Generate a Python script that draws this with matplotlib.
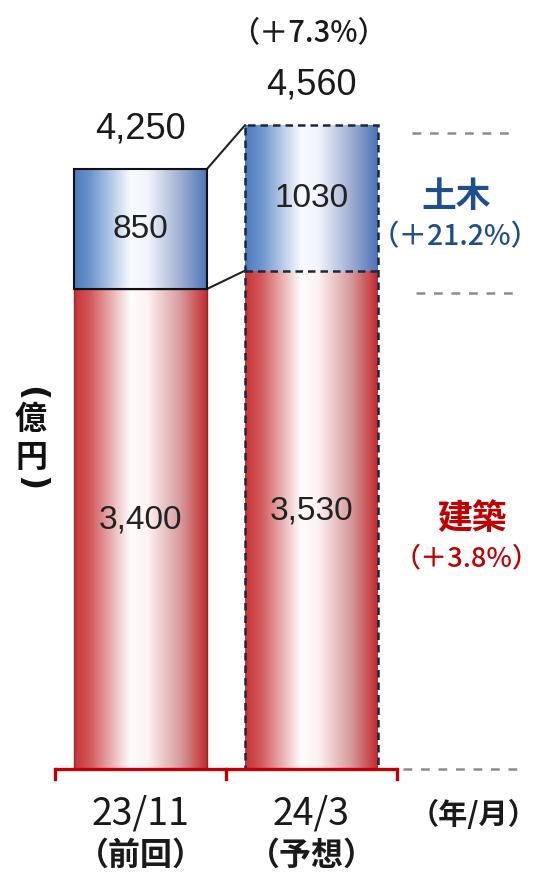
import numpy as np
import matplotlib
matplotlib.use("Agg")
import matplotlib.pyplot as plt
from matplotlib.colors import LinearSegmentedColormap
from matplotlib.patches import Rectangle

# ---------------- data ----------------
categories = ["23/11", "24/3"]
sub_labels = ["（前回）", "（予想）"]
kenchiku = [3400, 3530]          # 建築 (red, bottom)
doboku = [850, 1030]             # 土木 (blue, top)
total_labels = ["4,250", "4,560"]
seg_red_labels = ["3,400", "3,530"]
seg_blue_labels = ["850", "1030"]
total_change = "（＋7.3%）"
doboku_change = "（＋21.2%）"
kenchiku_change = "（＋3.8%）"
guide_levels = [4505, 3370, 0]   # right-hand dashed guide lines

CJK = ["Noto Sans CJK JP", "DejaVu Sans"]
NUM = ["Liberation Sans", "DejaVu Sans"]

W, H = 539, 879
fig = plt.figure(figsize=(W / 100, H / 100), dpi=100)
ax = fig.add_axes([0, 0, 1, 1])
ax.set_axis_off()

# axis limits chosen so that bar centres are 171 px apart, baseline at 770 px
XL0, XL1 = -140.5 / 171, (W - 140.5) / 171
UPP = 7.083  # data units per pixel
YL0 = -(H - 770) * UPP
YL1 = 770 * UPP
ax.set_xlim(XL0, XL1)
ax.set_ylim(YL0, YL1)


def dx(px):
    return XL0 + px / W * (XL1 - XL0)


def dy(py):
    return YL1 - py / H * (YL1 - YL0)


bw = 133 / 171
x = np.arange(len(categories))

red_cmap = LinearSegmentedColormap.from_list(
    "r", [(0, (0.78, 0.20, 0.21)), (0.12, (0.82, 0.35, 0.36)), (0.42, (1, 0.99, 0.99)),
          (0.55, (0.99, 0.95, 0.95)), (0.8, (0.84, 0.60, 0.61)), (1, (0.76, 0.16, 0.18))])
blue_cmap = LinearSegmentedColormap.from_list(
    "b", [(0, (0.30, 0.48, 0.74)), (0.12, (0.42, 0.58, 0.80)), (0.42, (0.97, 0.98, 1.0)),
          (0.55, (0.95, 0.96, 0.99)), (0.8, (0.62, 0.68, 0.82)), (1, (0.30, 0.45, 0.72))])
grad = np.linspace(0, 1, 256).reshape(1, -1)

for i in range(len(categories)):
    x0, x1 = x[i] - bw / 2, x[i] + bw / 2
    r_top = kenchiku[i]
    b_top = kenchiku[i] + doboku[i]
    ax.imshow(grad, cmap=red_cmap, extent=(x0, x1, 0, r_top), aspect="auto",
              interpolation="bicubic", zorder=2)
    ax.imshow(grad, cmap=blue_cmap, extent=(x0, x1, r_top, b_top), aspect="auto",
              interpolation="bicubic", zorder=2)
    if i == 0:
        ax.add_patch(Rectangle((x0, 0), bw, r_top, fill=False, ec="#8a2a2a", lw=1.0, zorder=3))
        ax.add_patch(Rectangle((x0, r_top), bw, doboku[i], fill=False, ec="#111111", lw=1.5, zorder=4))
    else:
        ax.add_patch(Rectangle((x0, 0), bw, b_top, fill=False, ec="#1c2738", lw=1.8,
                               ls=(0, (3, 2)), zorder=4))
        ax.plot([x0, x1], [r_top, r_top], color="#1c2738", lw=1.8, ls=(0, (3, 2)), zorder=4)
    # segment labels
    ax.text(x[i], r_top / 2 + 10 * UPP, seg_red_labels[i], ha="center", va="center",
            fontsize=24, family=NUM, color="#222222", zorder=5)
    ax.text(x[i], r_top + doboku[i] / 2, seg_blue_labels[i], ha="center", va="center",
            fontsize=24, family=NUM, color="#222222", zorder=5)
    # totals
    ax.text(x[i], b_top + 41 * UPP, total_labels[i], ha="center", va="center",
            fontsize=26, family=NUM, color="#1a1a1a", zorder=5)

# connector lines
ax.plot([x[0] + bw / 2, x[1] - bw / 2],
        [kenchiku[0] + doboku[0], kenchiku[1] + doboku[1]], color="#222222", lw=1.5, zorder=3)
ax.plot([x[0] + bw / 2, x[1] - bw / 2], [kenchiku[0], kenchiku[1]], color="#222222", lw=1.5, zorder=3)

# red baseline with category ticks
edges = [-0.5, 0.5, 1.5]
ax.plot([edges[0], edges[-1]], [0, 0], color="#c00000", lw=2.4, solid_capstyle="butt", zorder=6)
for e in edges:
    ax.plot([e, e], [0, -10 * UPP], color="#c00000", lw=2.4, zorder=6)

# dashed guides on the right
guide_x = [(dx(412), dx(512)), (dx(416), dx(517)), (dx(403), dx(517))]
for lvl, (g0, g1) in zip(guide_levels, guide_x):
    ax.plot([g0, g1], [lvl, lvl], color="#8c8c8c", lw=1.8, ls=(0, (3.5, 3.5)), zorder=1)

# percentage change above
ax.text(dx(308), dy(33), total_change, ha="center", va="center", fontsize=21,
        family=CJK, weight="medium", color="#1a1a1a")

# series labels on right
blue_c = "#1f4e8c"
red_c = "#c00000"
ax.text(dx(456), dy(196), "土木", ha="center", va="center", fontsize=25, family=CJK,
        weight="bold", color=blue_c)
ax.text(dx(455), dy(237), doboku_change, ha="center", va="center", fontsize=20.5, family=CJK,
        weight="medium", color=blue_c)
ax.text(dx(472), dy(519), "建築", ha="center", va="center", fontsize=25, family=CJK,
        weight="bold", color=red_c)
ax.text(dx(467), dy(559), kenchiku_change, ha="center", va="center", fontsize=19.5, family=CJK,
        weight="medium", color=red_c)

# unit label (vertical): upright characters, parentheses turned sideways
ax.text(dx(31), dy(394), "(", ha="center", va="center", fontsize=24, family=["DejaVu Sans"],
        weight="bold", rotation=-90, color="#111111")
ax.text(dx(31), dy(420), "億", ha="center", va="center", fontsize=23, family=CJK,
        weight="bold", color="#111111")
ax.text(dx(31), dy(458), "円", ha="center", va="center", fontsize=23, family=CJK,
        weight="bold", color="#111111")
ax.text(dx(31), dy(484), ")", ha="center", va="center", fontsize=24, family=["DejaVu Sans"],
        weight="bold", rotation=-90, color="#111111")

# category labels
for i in range(len(categories)):
    ax.text(x[i], dy(814), categories[i], ha="center", va="center", fontsize=27,
            family=CJK, color="#1a1a1a")
    ax.text(x[i], dy(856), sub_labels[i], ha="center", va="center", fontsize=23,
            family=CJK, weight="bold", color="#1a1a1a")
ax.text(dx(474), dy(815), "（年/月）", ha="center", va="center", fontsize=21,
        family=CJK, weight="bold", color="#1a1a1a")

fig.savefig("out.png", dpi=100)
